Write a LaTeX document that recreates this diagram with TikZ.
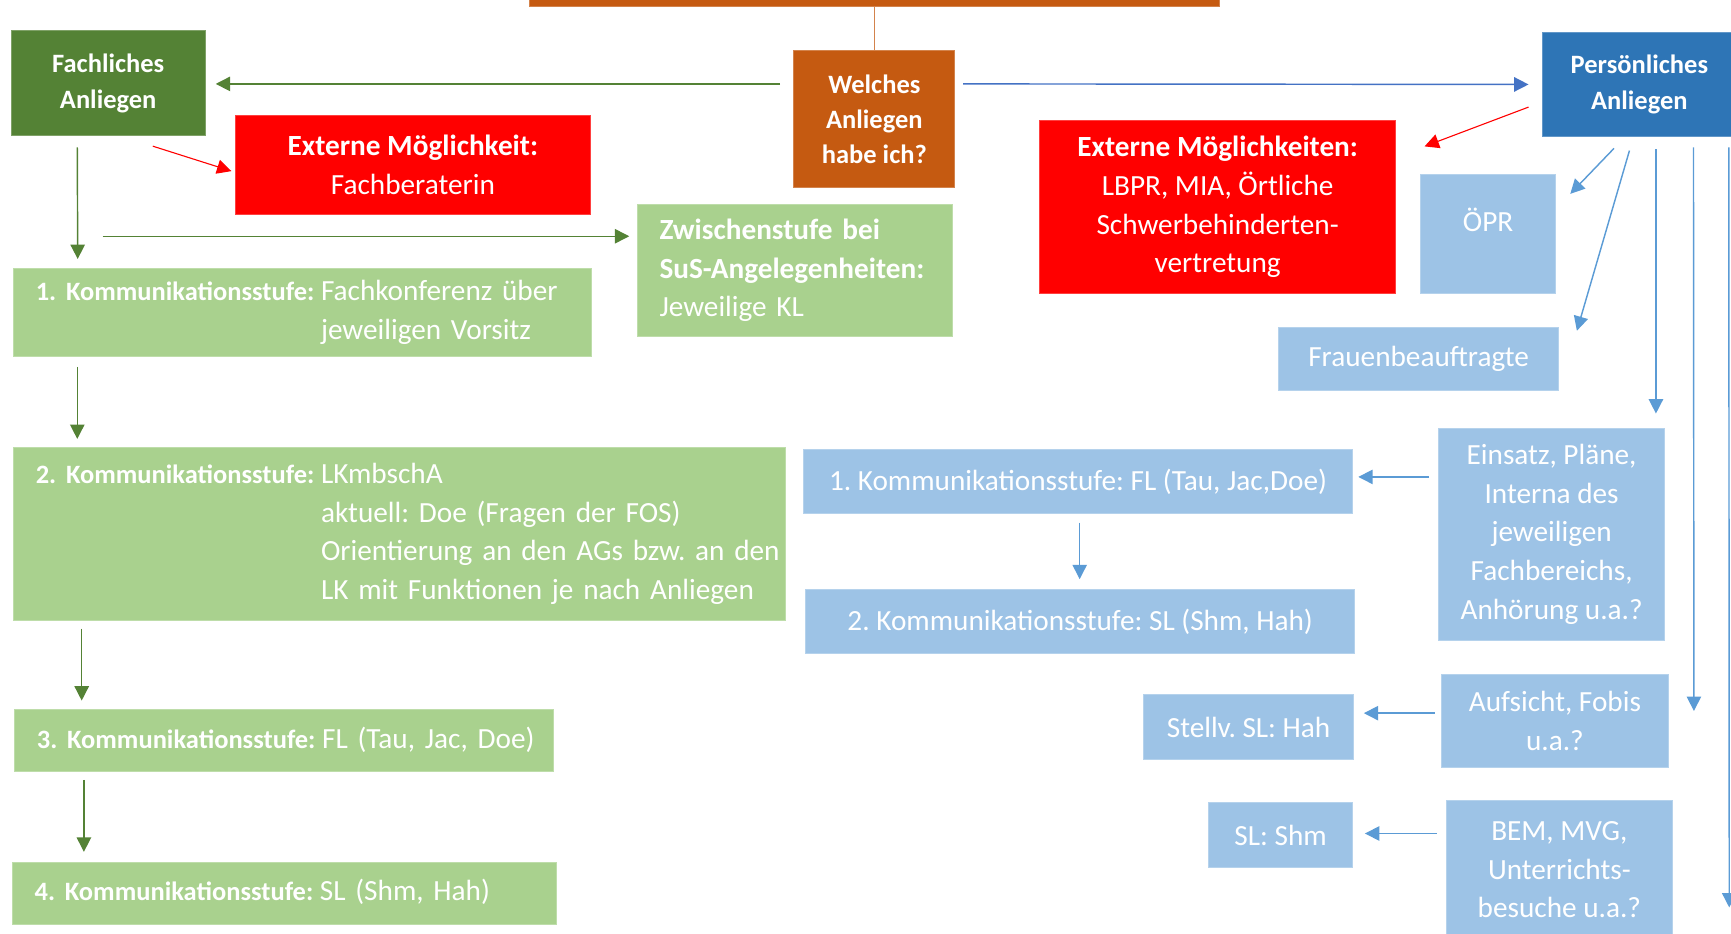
\documentclass[tikz,border=0pt]{standalone}
\usepackage{fontspec}
\setmainfont{Carlito}
\usepackage{xcolor}
\usepackage{tikz}
\usetikzlibrary{arrows.meta}

\definecolor{gdark}{HTML}{548235}
\definecolor{glight}{HTML}{A9D18E}
\definecolor{orng}{HTML}{C55A11}
\definecolor{bdark}{HTML}{2E75B6}
\definecolor{blight}{HTML}{9DC3E6}
\definecolor{barrow}{HTML}{5B9BD5}
\definecolor{btop}{HTML}{4472C4}

\frenchspacing
\newcommand\bodyfont{\fontsize{26.5}{35}\selectfont}
\newcommand\hdrfont{\fontsize{24}{32}\selectfont\bfseries}
\newcommand\klab[1]{{\hdrfont #1}}

\tikzset{
  box/.style={rectangle, inner sep=0pt, fill=#1, draw=#1!75!white, line width=0.8pt,
    text=white, font=\bodyfont, align=center},
  lbox/.style={box=#1, anchor=west, inner xsep=20pt, align=left},
  arr/.style={draw=#1, line width=1.3pt, -{Triangle[length=13pt,width=13pt]}},
}

\begin{document}
\begin{tikzpicture}[x=1pt,y=-1pt]
  \useasboundingbox (0,0) rectangle (1568,846);
  \clip (0,0) rectangle (1568,846);

  \node[box=orng, minimum width=625pt, minimum height=12pt] (TOP) at (792,0) {};
  \node[box=orng, font=\hdrfont, minimum width=146pt, minimum height=124pt] (W) at (792,108) {Welches\\Anliegen\\habe ich?};
  \draw[orng!75!white, line width=1.3pt] (TOP) -- (W);

  % fachliches Anliegen
  \node[box=gdark, font=\hdrfont, minimum width=176pt, minimum height=95pt] (FA) at (98,75.5) {Fachliches\\Anliegen};
  \node[box=red, minimum width=322pt, minimum height=89pt] (EL) at (374,149.5) {\textbf{Externe Möglichkeit:}\\Fachberaterin};
  \node[lbox=glight, text width=245pt, minimum height=120pt] (Z) at (577,245) {\textbf{Zwischenstufe bei}\\\textbf{SuS-Angelegenheiten:}\\Jeweilige KL};
  \node[lbox=glight, text width=483pt, minimum height=80pt] (K1) at (12,283)
    {\begin{tabular}{@{}l@{\hspace{6pt}}l@{}}
      \klab{1. Kommunikationsstufe:} & Fachkonferenz über\\
      & jeweiligen Vorsitz
    \end{tabular}};
  \node[lbox=glight, text width=659pt, minimum height=157pt] (K2) at (12,483.5)
    {\begin{tabular}{@{}l@{\hspace{6pt}}l@{}}
      \klab{2. Kommunikationsstufe:} & LKmbschA\\
      & aktuell: Doe (Fragen der FOS)\\
      & Orientierung an den AGs bzw. an den\\
      & LK mit Funktionen je nach Anliegen
    \end{tabular}};
  \node[lbox=glight, text width=448pt, minimum height=56pt] (K3) at (13,671)
    {\begin{tabular}{@{}l@{\hspace{6pt}}l@{}}\klab{3. Kommunikationsstufe:} & FL (Tau, Jac, Doe)\end{tabular}};
  \node[lbox=glight, text width=453pt, minimum height=56pt] (K4) at (11,809)
    {\begin{tabular}{@{}l@{\hspace{6pt}}l@{}}\klab{4. Kommunikationsstufe:} & SL (Shm, Hah)\end{tabular}};
  \coordinate (zs) at (93,214);

  % persoenliches Anliegen
  \node[box=bdark, font=\hdrfont, minimum width=176pt, minimum height=95pt] (PA) at (1485,76.5) {Persönliches\\Anliegen};
  \node[box=red, minimum width=322pt, minimum height=157pt] (ER) at (1103,187.5) {\textbf{Externe Möglichkeiten:}\\LBPR, MIA, Örtliche\\Schwerbehinderten-\\vertretung};
  \node[box=blight, minimum width=122pt, minimum height=108pt, text depth=26pt] (OEPR) at (1348,212) {ÖPR};
  \node[box=blight, minimum width=254pt, minimum height=57pt] (FB) at (1285,325.5) {Frauenbeauftragte};
  \node[box=blight, minimum width=205pt, minimum height=192pt] (EI) at (1405.5,484) {Einsatz, Pläne,\\Interna des\\jeweiligen\\Fachbereichs,\\Anhörung u.a.?};
  \node[box=blight, minimum width=497pt, minimum height=58pt] (R1) at (976.5,436) {1. Kommunikationsstufe: FL (Tau, Jac,Doe)};
  \node[box=blight, minimum width=497pt, minimum height=58pt] (R2) at (978.5,563) {2. Kommunikationsstufe: SL (Shm, Hah)};
  \node[box=blight, minimum width=205pt, minimum height=84pt] (AU) at (1408.5,653) {Aufsicht, Fobis\\u.a.?};
  \node[box=blight, minimum width=190pt, minimum height=59pt] (ST) at (1131,658.5) {Stellv. SL: Hah};
  \node[box=blight, minimum width=130pt, minimum height=59pt] (SL) at (1160,756.5) {SL: Shm};
  \node[box=blight, minimum width=205pt, minimum height=126pt] (BEM) at (1412.5,788) {BEM, MVG,\\Unterrichts-\\besuche u.a.?};

  % arrows left
  \draw[arr=gdark] ([shift={(-12,-32)}]W.west) -- ([shift={(9,0.5)}]FA.east);
  \draw[arr=red, line width=1pt] ([shift={(-48,9)}]FA.south east) -- ([shift={(-3,5.5)}]EL.west);
  \draw[arr=gdark] ([shift={(-28,10)}]FA.south) -- ([shift={(-203.5,-8)}]K1.north);
  \draw[arr=gdark] (zs) -- ([shift={(-7,-31)}]Z.west);
  \draw[arr=gdark] ([shift={(58,9)}]K1.south west) -- ([shift={(58,-7)}]K2.north west);
  \draw[arr=gdark] ([shift={(62,7)}]K2.south west) -- ([shift={(61,-8)}]K3.north west);
  \draw[arr=gdark] ([shift={(63,7)}]K3.south west) -- ([shift={(65,-9)}]K4.north west);

  % arrows right
  \draw[arr=btop] ([shift={(7,-32)}]W.east) -- ([shift={(-12,0)}]PA.west);
  \draw[arr=red, line width=1pt] ([shift={(-12,20.5)}]PA.west) -- ([shift={(26,24)}]ER.north east);
  \draw[arr=barrow] ([shift={(-23,10)}]PA.south) -- ([shift={(13,18)}]OEPR.north east);
  \draw[arr=barrow] ([shift={(-9,12)}]PA.south) -- ([shift={(16,3)}]FB.north east);
  \draw[arr=barrow] ([shift={(15,11)}]PA.south) -- ([shift={(94.5,-13)}]EI.north);
  \draw[arr=barrow] ([shift={(49,9)}]PA.south) -- ([shift={(23,-9)}]AU.east);
  \draw[arr=barrow] ([shift={(81,9)}]PA.south) -- ([shift={(51,34)}]BEM.east);
  \draw[arr=barrow] ([shift={(-8,-52)}]EI.west) -- ([shift={(5,-4)}]R1.east);
  \draw[arr=barrow] ([shift={(1.5,8)}]R1.south) -- ([shift={(-0.5,-9)}]R2.north);
  \draw[arr=barrow] ([shift={(-6,-7)}]AU.west) -- ([shift={(9,-12.5)}]ST.east);
  \draw[arr=barrow] ([shift={(-8,-33)}]BEM.west) -- ([shift={(11,-1.5)}]SL.east);
\end{tikzpicture}
\end{document}
